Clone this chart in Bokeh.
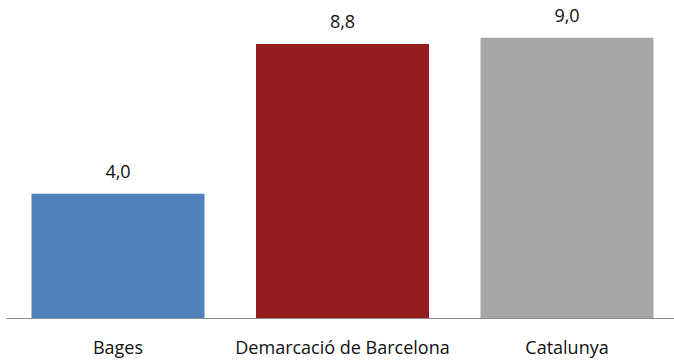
from bokeh.plotting import figure
from bokeh.models import Range1d, FixedTicker, ColumnDataSource
from bokeh.core.properties import value
from bokeh.embed import file_html
from bokeh.resources import INLINE

categories = ["Bages", "Demarcació de Barcelona", "Catalunya"]
values = [4.0, 8.8, 9.0]
colors = ["#4F81BD", "#951C1C", "#A6A6A6"]

positions = list(range(1, len(categories) + 1))
labels = [f"{v:.1f}".replace(".", ",") for v in values]

src = ColumnDataSource(dict(x=positions, top=values, color=colors, label=labels))

p = figure(width=674, height=361, output_backend="svg", toolbar_location=None,
           x_range=Range1d(0.5033, 3.4788), y_range=Range1d(0, 10.19),
           min_border_left=6, min_border_right=0, min_border_top=0, min_border_bottom=41)
p.outline_line_color = None
p.background_fill_color = "white"
p.border_fill_color = "white"
p.xgrid.visible = False
p.ygrid.visible = False
p.yaxis.visible = False

p.vbar(x="x", top="top", bottom=0, width=0.7706, color="color", line_color=None, source=src)
p.text(x="x", y="top", text="label", source=src, y_offset=-22,
       text_align="center", text_baseline="alphabetic",
       text_font=value("Open Sans"), text_font_size="18px", text_color="#111111")

ax = p.xaxis[0]
ax.ticker = FixedTicker(ticks=positions)
ax.major_label_overrides = {pos: cat for pos, cat in zip(positions, categories)}
ax.axis_line_color = "#8C8C8C"
ax.axis_line_width = 1
ax.major_tick_line_color = None
ax.minor_tick_line_color = None
ax.major_tick_out = 0
ax.major_tick_in = 0
ax.major_label_standoff = 16
ax.major_label_text_font = "Open Sans"
ax.major_label_text_font_size = "18px"
ax.major_label_text_color = "#111111"

open("out.html", "w").write(file_html(p, INLINE))
